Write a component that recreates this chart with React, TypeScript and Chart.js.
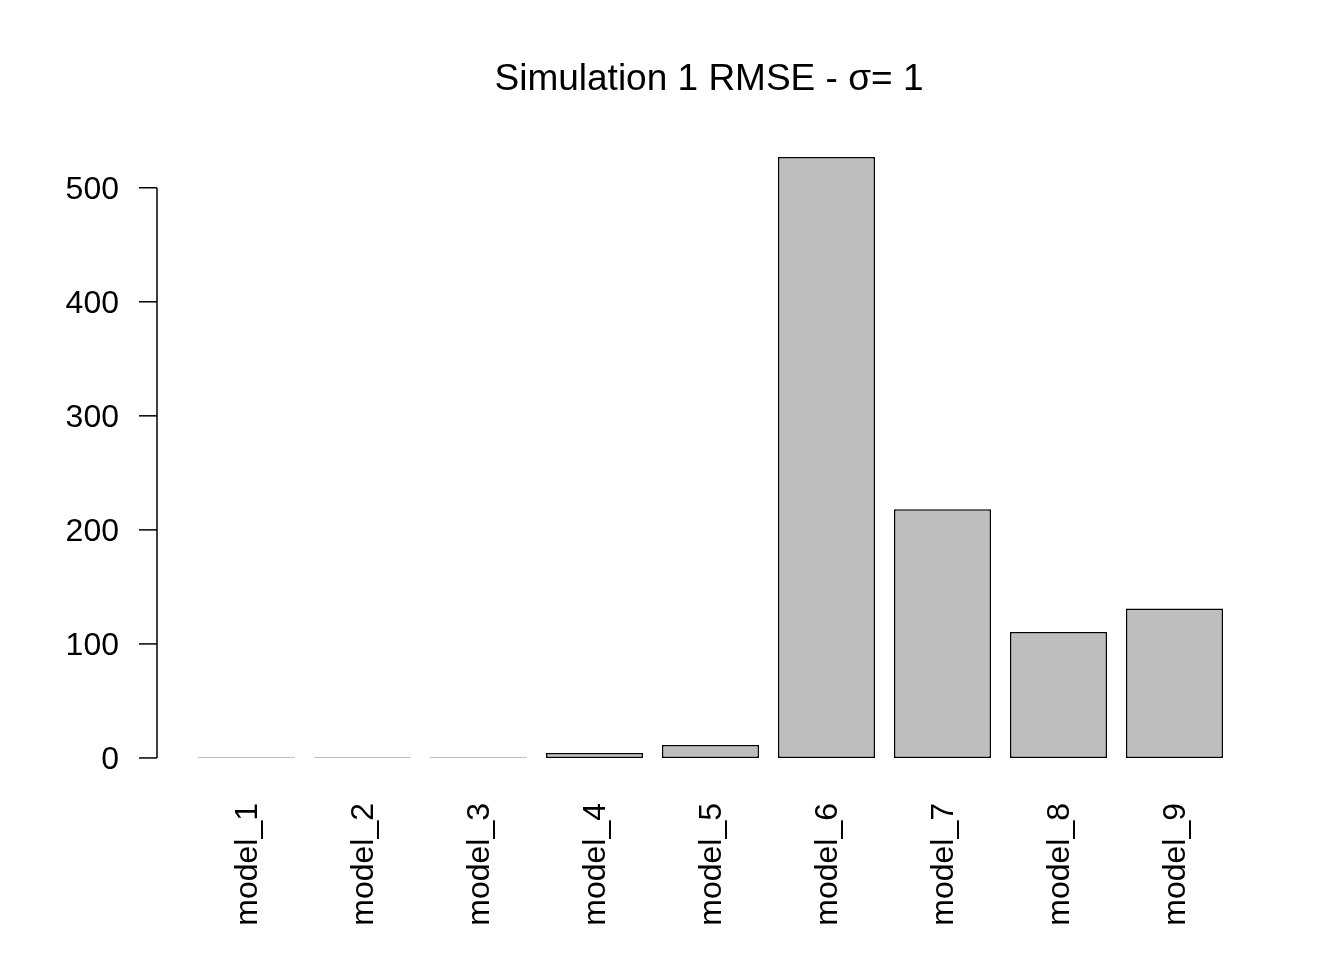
import React, { useEffect, useRef } from 'react';
import Chart from 'chart.js/auto';

const models = ['model_1', 'model_2', 'model_3', 'model_4', 'model_5', 'model_6', 'model_7', 'model_8', 'model_9'];
const rmse = [0.4, 0.5, 0.5, 4.4, 11.4, 527, 218, 110.5, 131];
const yTicks = [0, 100, 200, 300, 400, 500];

const FONT = '"Liberation Sans", Arial, sans-serif';

const App = () => {
  const canvasRef = useRef<HTMLCanvasElement | null>(null);
  const chartRef = useRef<Chart | null>(null);

  useEffect(() => {
    if (!canvasRef.current) return;

    // draws the R-style title, y axis and rotated x labels
    const rAxes = {
      id: 'rAxes',
      afterDraw(chart: any) {
        const ctx = chart.ctx;
        const y = chart.scales.y;
        const x = chart.scales.x;
        const axisX = 157;
        ctx.save();
        ctx.fillStyle = '#000';
        ctx.strokeStyle = '#000';
        ctx.lineWidth = 1.5;

        ctx.font = `37px ${FONT}`;
        ctx.textAlign = 'center';
        ctx.textBaseline = 'middle';
        ctx.fillText('Simulation 1 RMSE - σ= 1', 709, 80);

        ctx.beginPath();
        ctx.moveTo(axisX, y.getPixelForValue(0));
        ctx.lineTo(axisX, y.getPixelForValue(500));
        ctx.stroke();
        ctx.font = `32px ${FONT}`;
        ctx.textAlign = 'right';
        yTicks.forEach((t) => {
          const py = y.getPixelForValue(t);
          ctx.beginPath();
          ctx.moveTo(axisX, py);
          ctx.lineTo(axisX - 18, py);
          ctx.stroke();
          ctx.fillText(String(t), 119, py + 2);
        });

        models.forEach((m, i) => {
          const px = x.getPixelForValue(i);
          ctx.save();
          ctx.translate(px + 2, 803);
          ctx.rotate(-Math.PI / 2);
          ctx.textAlign = 'right';
          ctx.textBaseline = 'middle';
          ctx.fillText(m, 0, 0);
          ctx.restore();
        });
        ctx.restore();
      },
    };

    chartRef.current = new Chart(canvasRef.current, {
      type: 'bar',
      data: {
        labels: models,
        datasets: [
          {
            data: rmse,
            backgroundColor: '#bebebe',
            borderColor: '#000',
            borderWidth: 1.5,
            borderSkipped: false,
            barPercentage: 0.836,
            categoryPercentage: 1,
            base: 0,
          },
        ],
      },
      options: {
        animation: false,
        responsive: false,
        layout: { padding: { left: 188.5, right: 111.5, top: 133, bottom: 178 } },
        plugins: { legend: { display: false }, tooltip: { enabled: false } },
        scales: {
          x: { display: false },
          y: { display: false, min: -21.08, max: 548 },
        },
      },
      plugins: [rAxes],
    });

    return () => {
      chartRef.current?.destroy();
    };
  }, []);

  return (
    <div style={{ position: 'absolute', left: 0, top: 0, width: 1344, height: 960, background: '#fff' }}>
      <canvas ref={canvasRef} width={1344} height={960} />
    </div>
  );
};

export default App;
